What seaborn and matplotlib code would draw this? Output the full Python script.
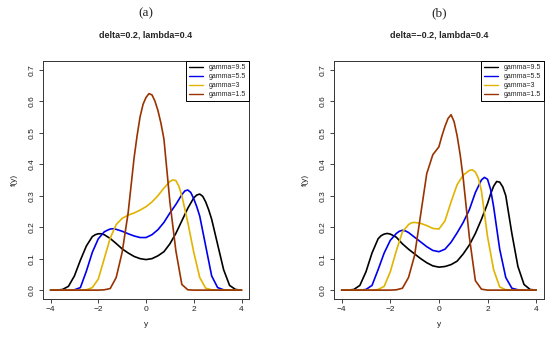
import numpy as np
import pandas as pd
import seaborn as sns
import matplotlib
matplotlib.use("Agg")
import matplotlib.pyplot as plt

# grid of y values (step 0.25 from -4 to 4)
y_grid = np.arange(-4, 4.001, 0.25)

labels = ["gamma=9.5", "gamma=5.5", "gamma=3", "gamma=1.5"]
colors = ["black", "#0000EE", "#E0B400", "#993300"]

# panel (a): delta=0.2, lambda=0.4
a_g95 = [0, 0, 0.002, 0.012, 0.045, 0.095, 0.14, 0.17, 0.179, 0.176, 0.164, 0.148, 0.131, 0.118, 0.107, 0.1, 0.097,
         0.1, 0.109, 0.122, 0.147, 0.18, 0.22, 0.26, 0.293, 0.305, 0.28, 0.225, 0.145, 0.065, 0.015, 0.002, 0]
a_g55 = [0, 0, 0, 0, 0.001, 0.008, 0.06, 0.12, 0.163, 0.185, 0.194, 0.193, 0.187, 0.179, 0.172, 0.167, 0.167,
         0.176, 0.192, 0.215, 0.245, 0.272, 0.303, 0.318, 0.29, 0.235, 0.14, 0.045, 0.008, 0.001, 0, 0, 0]
a_g3 = [0, 0, 0, 0, 0, 0, 0.001, 0.008, 0.035, 0.1, 0.165, 0.208, 0.228, 0.238, 0.245, 0.254, 0.265,
        0.28, 0.3, 0.324, 0.345, 0.348, 0.3, 0.215, 0.12, 0.04, 0.006, 0.001, 0, 0, 0, 0, 0]
a_g15 = [0, 0, 0, 0, 0, 0, 0, 0, 0, 0.001, 0.005, 0.04, 0.12, 0.245, 0.42, 0.55, 0.612,
         0.62, 0.57, 0.48, 0.28, 0.125, 0.018, 0.001, 0, 0, 0, 0, 0, 0, 0, 0, 0]

# panel (b): delta=-0.2, lambda=0.4
b_g95 = [0, 0, 0.002, 0.015, 0.058, 0.118, 0.163, 0.178, 0.178, 0.168, 0.147, 0.13, 0.115, 0.1, 0.087, 0.077, 0.073,
         0.075, 0.081, 0.092, 0.115, 0.143, 0.18, 0.225, 0.275, 0.33, 0.343, 0.3, 0.18, 0.075, 0.018, 0.002, 0]
b_g55 = [0, 0, 0, 0, 0.002, 0.015, 0.065, 0.118, 0.158, 0.18, 0.19, 0.183, 0.168, 0.153, 0.138, 0.126, 0.122,
         0.13, 0.152, 0.182, 0.215, 0.255, 0.31, 0.35, 0.352, 0.265, 0.13, 0.04, 0.006, 0.001, 0, 0, 0]
b_g3 = [0, 0, 0, 0, 0, 0, 0.002, 0.012, 0.058, 0.125, 0.185, 0.208, 0.215, 0.212, 0.205, 0.196, 0.194,
        0.22, 0.28, 0.335, 0.365, 0.38, 0.375, 0.315, 0.17, 0.065, 0.01, 0.001, 0, 0, 0, 0, 0]
b_g15 = [0, 0, 0, 0, 0, 0, 0, 0, 0, 0.001, 0.006, 0.04, 0.11, 0.24, 0.37, 0.43, 0.455,
         0.52, 0.557, 0.49, 0.355, 0.17, 0.03, 0.003, 0, 0, 0, 0, 0, 0, 0, 0, 0]

# extra readings around the peaks (x, f) so the tops stay round
a_g95_extra = ([-2.125, -1.875, 2.125, 2.375, 2.625], [0.176, 0.179, 0.302, 0.298, 0.255])
a_g55_extra = ([-1.625, -1.375, 1.625, 1.875, 2.125], [0.19, 0.195, 0.315, 0.31, 0.265])
a_g3_extra = ([1.125, 1.375], [0.35, 0.33])
a_g15_extra = ([-0.375, -0.125, 0.125, 0.375, 0.625, 0.875], [0.49, 0.59, 0.624, 0.6, 0.53, 0.38])
b_g95_extra = ([-2.375, -2.125, 2.125, 2.375, 2.625], [0.173, 0.18, 0.305, 0.345, 0.328])
b_g55_extra = ([-1.625, -1.375, 1.875, 2.125], [0.187, 0.188, 0.358, 0.32])
b_g3_extra = ([-1.125, 1.375, 1.625], [0.214, 0.382, 0.355])
b_g15_extra = ([0.125, 0.375, 0.625, 0.875], [0.49, 0.545, 0.535, 0.43])

panels = [
    ("(a)", "delta=0.2, lambda=0.4", [a_g95, a_g55, a_g3, a_g15],
     [a_g95_extra, a_g55_extra, a_g3_extra, a_g15_extra]),
    ("(b)", "delta=\u22120.2, lambda=0.4", [b_g95, b_g55, b_g3, b_g15],
     [b_g95_extra, b_g55_extra, b_g3_extra, b_g15_extra]),
]

sns.set_theme(style="ticks")
plt.rcParams['font.family'] = ['Liberation Sans', 'DejaVu Sans']

fig = plt.figure(figsize=(5.5, 3.44), dpi=100)
boxes = [[0.078, 0.131, 0.375, 0.692], [0.607, 0.131, 0.382, 0.692]]

for (tag, title, series, extras), box in zip(panels, boxes):
    ax = fig.add_axes(box)
    parts = []
    for lab, vals, (ex_x, ex_f) in zip(labels, series, extras):
        parts.append(pd.DataFrame({'y': np.concatenate([y_grid, ex_x]),
                                   'f': np.concatenate([vals, ex_f]),
                                   'gamma': lab}))
    df = pd.concat(parts).sort_values(['gamma', 'y'])
    sns.lineplot(data=df, x='y', y='f', hue='gamma', hue_order=labels, palette=colors,
                 linewidth=1.2, sort=True, estimator=None, ax=ax)

    ax.set_xlim(-4.32, 4.32)
    ax.set_ylim(-0.028, 0.728)
    ax.set_xticks([-4, -2, 0, 2, 4])
    ax.set_yticks(np.arange(0, 0.71, 0.1))
    ax.set_yticklabels([f"{v:.1f}" for v in np.arange(0, 0.71, 0.1)], rotation=90, va='center')
    ax.tick_params(labelsize=6, length=3, width=0.6, pad=2, colors='#222222')
    for s in ax.spines.values():
        s.set_linewidth(0.7)
        s.set_color('#333333')

    ax.set_xlabel("y", fontsize=6, labelpad=6)
    ax.set_ylabel("f(y)", fontsize=6, labelpad=8)
    ax.set_title(title, fontsize=6.5, fontweight='bold', pad=17)

    # subfigure tag above the title
    ax.text(0.5, 1.2, tag, transform=ax.transAxes, ha='center', va='center',
            fontsize=9.5, family=['Liberation Serif', 'DejaVu Serif'])

    leg = ax.legend(loc='upper right', borderaxespad=0, fancybox=False, fontsize=5,
                    handlelength=2.0, labelspacing=0.3, borderpad=0.45, handletextpad=0.8,
                    framealpha=1, edgecolor='black')
    leg.get_frame().set_linewidth(0.7)
    for line in leg.get_lines():
        line.set_linewidth(1.0)

fig.savefig("out.png", dpi=100)
